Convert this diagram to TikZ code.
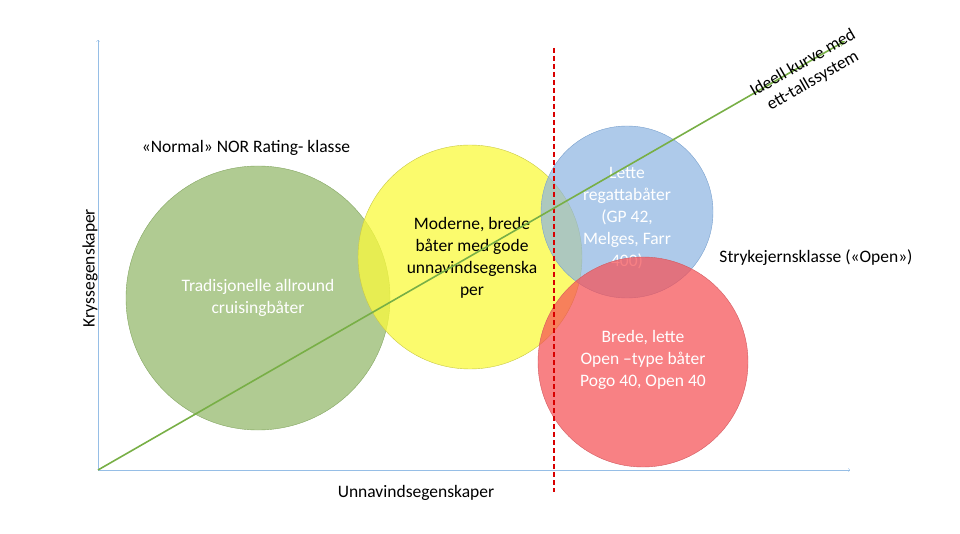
\documentclass[tikz,border=0pt]{standalone}
\usepackage{fontspec}
\setmainfont{Carlito}
\begin{document}
\begin{tikzpicture}[x=1pt,y=-1pt,
  lbl/.style={font=\fontsize{17.5}{22}\selectfont,align=center,text=#1},
  circ/.style={circle,minimum size=#1,inner sep=0pt}]
\useasboundingbox (0,0) rectangle (960,534);
\definecolor{axc}{RGB}{150,190,230}
\definecolor{gf}{RGB}{150,185,110}\definecolor{gd}{RGB}{130,165,95}
\definecolor{yf}{RGB}{250,250,60}\definecolor{yd}{RGB}{200,200,70}
\definecolor{bf}{RGB}{140,180,225}\definecolor{bd}{RGB}{120,160,205}
\definecolor{rf}{RGB}{245,80,85}\definecolor{rd}{RGB}{210,90,95}
\definecolor{lc}{RGB}{120,175,70}
\coordinate (o) at (98,470);
\coordinate (ytop) at (98,40);
\coordinate (xend) at (850,470);
\draw[axc,->] (o) -- (ytop);
\draw[axc,->] (o) -- (xend);
\node[circ=264pt,fill=gf,fill opacity=0.75,draw=gd] (g) at (258,298) {};
\node[lbl=white] (gt) at (258,298) {Tradisjonelle allround\\cruisingbåter};
\node[circ=224pt,fill=yf,fill opacity=0.75,draw=yd] (y) at (470,257) {};
\node[lbl=black] (yt) at (472,258) {Moderne, brede\\båter med gode\\unnavindsegenska\\per};
\node[circ=172pt,fill=bf,fill opacity=0.7,draw=bd] (b) at (627,212) {};
\node[lbl=white] (bt) at (627,218) {Lette\\regattabåter\\(GP 42,\\Melges, Farr\\400)};
\node[circ=210pt,fill=rf,fill opacity=0.72,draw=rd] (r) at (643,362) {};
\node[lbl=white] (rt) at (643,360) {Brede, lette\\Open –type båter\\Pogo 40, Open 40};
\coordinate (dtop) at (554,48);
\coordinate (dbot) at (554,492);
\draw[red!85!black,line width=2pt,dash pattern=on 5pt off 3pt] (dtop) -- (dbot);
\coordinate (aend) at (845,41);
\draw[lc,line width=1.6pt,-stealth] (o) -- (aend);
\node[lbl=black,rotate=30,font=\fontsize{17.5}{20}\selectfont] (at) at (808,72) {Ideell kurve med\\ett-tallssystem};
\node[lbl=black] (nor) at (246,148) {«Normal» NOR Rating- klasse};
\node[lbl=black] (open) at (816,258) {Strykejernsklasse («Open»)};
\node[lbl=black,rotate=90] (ky) at (90,268) {Kryssegenskaper};
\node[lbl=black] (un) at (416,493) {Unnavindsegenskaper};
\end{tikzpicture}
\end{document}
